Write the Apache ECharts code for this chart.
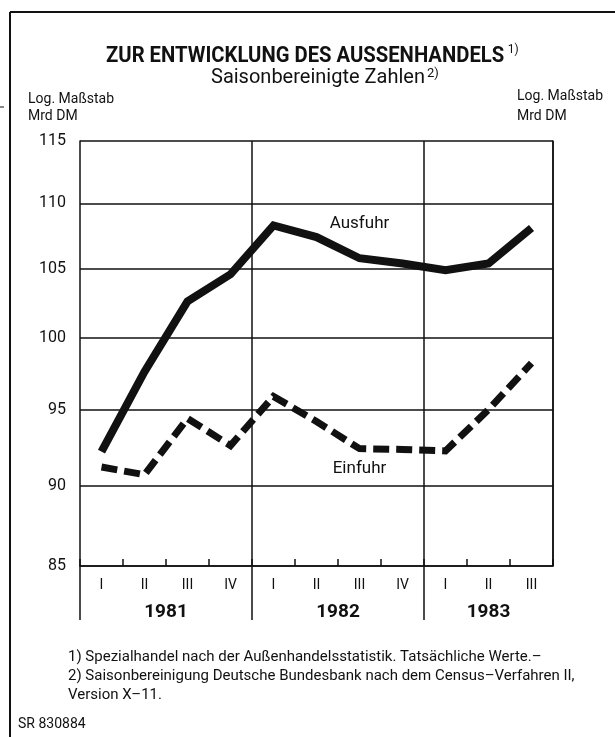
<!DOCTYPE html>
<html>
<head>
<meta charset="utf-8">
<script src="https://cdn.jsdelivr.net/npm/echarts@6/dist/echarts.min.js"></script>
<style>
  html, body { margin: 0; padding: 0; background: #fff; }
  #chart { width: 615px; height: 737px; }
</style>
</head>
<body>
<div id="chart"></div>
<script>
var FONT = 'Roboto, "Liberation Sans", sans-serif';
var INK = '#111';

// quarters on the x axis, grouped by year
var quarters = ['I', 'II', 'III', 'IV', 'I', 'II', 'III', 'IV', 'I', 'II', 'III'];
var years = ['1981', '1982', '1983'];
var quartersPerYear = [4, 4, 3];

// Mrd DM, seasonally adjusted (log scale)
var ausfuhr = [92.2, 97.6, 102.6, 104.6, 108.3, 107.4, 105.8, 105.4, 104.9, 105.4, 108.1];
var einfuhr = [91.2, 90.7, 94.4, 92.6, 95.9, 94.2, 92.4, 92.35, 92.25, 95.0, 98.2];
var yTicks = [85, 90, 95, 100, 105, 110, 115];

// year boundaries / year label positions on a 0..11 value scale
var yearStarts = [], yearMids = [], acc = 0;
quartersPerYear.forEach(function (n) {
    yearStarts.push(acc);
    yearMids.push(acc + n / 2);
    acc += n;
});

var myChart = echarts.init(document.getElementById('chart'));

// series name written next to one of its points
function withLabel(values, idx, text, pos, dist) {
    return values.map(function (v, i) {
        if (i !== idx) return v;
        return {
            value: v,
            label: {
                show: true, formatter: text, position: pos, distance: dist,
                color: INK, fontFamily: FONT, fontSize: 17
            }
        };
    });
}

var gridLineData = yTicks.map(function (v) { return { yAxis: v }; });

var option = {
    backgroundColor: '#fff',
    animation: false,
    textStyle: { fontFamily: FONT, color: INK },
    grid: { left: 80, right: 62, top: 141, bottom: 171 },
    xAxis: [{
        type: 'category',
        data: quarters,
        boundaryGap: true,
        axisLine: { show: true, lineStyle: { color: INK, width: 1.5 } },
        axisTick: { show: true, inside: true, length: 7, lineStyle: { color: INK, width: 1.5 } },
        axisLabel: { color: INK, fontFamily: FONT, fontSize: 14, margin: 12 },
        splitLine: {
            show: true,
            interval: function (index) { return yearStarts.indexOf(index) > 0; },
            lineStyle: { color: INK, width: 1.5 }
        }
    }, {
        type: 'value',
        position: 'bottom',
        min: 0,
        max: acc,
        axisLine: { show: false },
        axisTick: { show: true, customValues: yearStarts, length: 54, lineStyle: { color: INK, width: 1.5 } },
        axisLabel: {
            customValues: yearMids,
            margin: 37,
            color: INK, fontFamily: FONT, fontSize: 19, fontWeight: 'bold',
            formatter: function (v) { return years[yearMids.indexOf(v)]; }
        },
        splitLine: { show: false }
    }],
    yAxis: [{
        type: 'log',
        min: 85,
        max: 115,
        position: 'left',
        axisLine: { show: true, lineStyle: { color: INK, width: 1.5 } },
        axisTick: { show: false },
        axisLabel: { show: false },
        splitLine: { show: false }
    }, {
        type: 'log',
        min: 85,
        max: 115,
        position: 'right',
        axisLine: { show: true, lineStyle: { color: INK, width: 1.5 } },
        axisTick: { show: false },
        axisLabel: { show: false },
        splitLine: { show: false }
    }],
    series: [{
        name: 'grid-left',
        type: 'line',
        data: [],
        z: 1,
        markLine: {
            silent: true, symbol: 'none', animation: false,
            lineStyle: { color: INK, width: 1.5, type: 'solid' },
            label: { position: 'start', distance: 14, color: INK, fontFamily: FONT, fontSize: 16, formatter: '{c}' },
            data: gridLineData
        }
    }, {
        name: 'grid-right',
        type: 'line',
        data: [],
        z: 1,
        markLine: {
            silent: true, symbol: 'none', animation: false,
            lineStyle: { color: INK, width: 0, opacity: 0 },
            label: { position: 'end', distance: 9, color: INK, fontFamily: FONT, fontSize: 16, formatter: '{c}' },
            data: gridLineData
        }
    }, {
        name: 'Ausfuhr',
        type: 'line',
        z: 3,
        symbol: 'circle',
        symbolSize: 0.1,
        showSymbol: true,
        itemStyle: { color: INK },
        data: withLabel(ausfuhr, 6, 'Ausfuhr', 'top', 26),
        lineStyle: { color: INK, width: 8, cap: 'butt', join: 'miter' }
    }, {
        name: 'Einfuhr',
        type: 'line',
        z: 3,
        symbol: 'circle',
        symbolSize: 0.1,
        showSymbol: true,
        itemStyle: { color: INK },
        data: withLabel(einfuhr, 6, 'Einfuhr', 'bottom', 12),
        lineStyle: { color: INK, width: 7, type: [16, 7], cap: 'butt', join: 'miter' }
    }],
    graphic: [
        // outer frame (top and left)
        { type: 'line', shape: { x1: 10, y1: 12, x2: 615, y2: 12 }, style: { stroke: INK, lineWidth: 2 } },
        { type: 'line', shape: { x1: 10, y1: 12, x2: 10, y2: 737 }, style: { stroke: INK, lineWidth: 2 } },
        { type: 'line', shape: { x1: 0, y1: 107, x2: 4, y2: 107 }, style: { stroke: INK, lineWidth: 1 } },
        {
            type: 'text', x: 106, y: 56, scaleX: 0.92,
            style: {
                text: '{t|ZUR ENTWICKLUNG DES AUSSENHANDELS}{s|1)}',
                verticalAlign: 'middle',
                rich: {
                    t: { fontFamily: FONT, fontSize: 22, fontWeight: 'bold', fill: INK },
                    s: { fontFamily: FONT, fontSize: 13, fill: INK, padding: [0, 0, 12, 4] }
                }
            }
        },
        {
            type: 'text', x: 211, y: 78,
            style: {
                text: '{t|Saisonbereinigte Zahlen}{s|2)}',
                verticalAlign: 'middle',
                rich: {
                    t: { fontFamily: FONT, fontSize: 20, fill: INK },
                    s: { fontFamily: FONT, fontSize: 13, fill: INK, padding: [0, 0, 9, 2] }
                }
            }
        },
        { type: 'text', left: 28, top: 91, style: { text: 'Log. Maßstab\nMrd DM', fontFamily: FONT, fontSize: 14, lineHeight: 17, fill: INK } },
        { type: 'text', right: 12, top: 86, style: { text: 'Log. Maßstab\nMrd DM', fontFamily: FONT, fontSize: 14, lineHeight: 20, fill: INK, align: 'right' } },
        {
            type: 'text', left: 68, top: 648,
            style: {
                text: '1) Spezialhandel nach der Außenhandelsstatistik. Tatsächliche Werte.–\n' +
                      '2) Saisonbereinigung Deutsche Bundesbank nach dem Census–Verfahren II,\n' +
                      'Version X–11.',
                fontFamily: FONT, fontSize: 15, lineHeight: 19, fill: INK
            }
        },
        { type: 'text', left: 18, top: 717, style: { text: 'SR 830884', fontFamily: FONT, fontSize: 14, fill: INK } }
    ]
};
myChart.setOption(option);
</script>
</body>
</html>
